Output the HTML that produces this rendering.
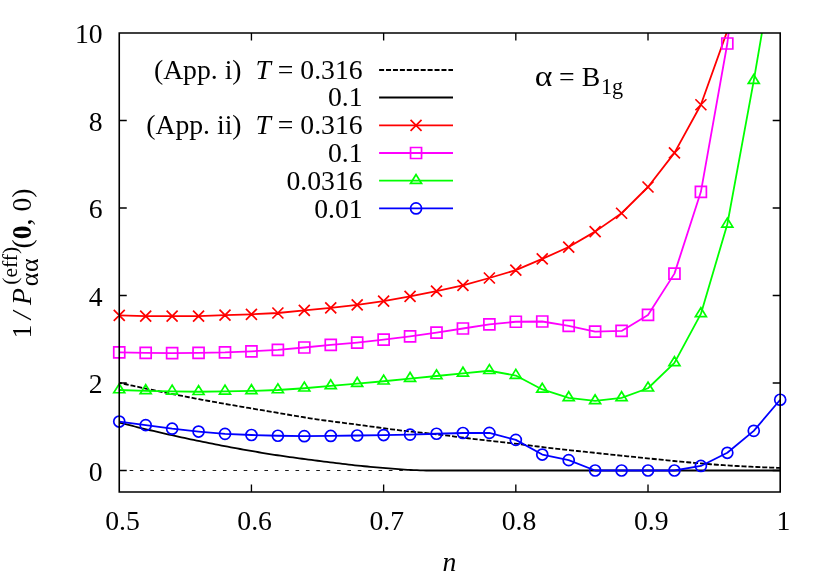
<!DOCTYPE html>
<html><head><meta charset="utf-8"><title>plot</title>
<style>html,body{margin:0;padding:0;background:#fff;}svg{display:block;}text{font-family:"Liberation Serif",serif;}</style></head>
<body>
<svg width="830" height="581" viewBox="0 0 830 581">
<defs><clipPath id="pc"><rect x="119.25" y="33.00" width="660.95" height="459.00"/></clipPath></defs>
<rect width="830" height="581" fill="#fff"/>
<path d="M119.25,470.50 H780.20" stroke="#000" stroke-width="0.9" stroke-dasharray="3.6 6.77" fill="none"/>
<path d="M119.25,382.78 L122.57,383.52 L125.89,384.25 L129.21,384.98 L132.54,385.71 L135.86,386.43 L139.18,387.14 L142.50,387.85 L145.82,388.56 L149.14,389.26 L152.46,389.95 L155.78,390.64 L159.11,391.32 L162.43,392.00 L165.75,392.68 L169.07,393.34 L172.39,394.01 L175.71,394.66 L179.03,395.32 L182.36,395.97 L185.68,396.61 L189.00,397.25 L192.32,397.88 L195.64,398.51 L198.96,399.14 L202.28,399.76 L205.61,400.38 L208.93,400.99 L212.25,401.60 L215.57,402.20 L218.89,402.80 L222.21,403.39 L225.53,403.98 L228.85,404.56 L232.18,405.14 L235.50,405.71 L238.82,406.28 L242.14,406.85 L245.46,407.41 L248.78,407.98 L252.10,408.54 L255.43,409.10 L258.75,409.66 L262.07,410.22 L265.39,410.78 L268.71,411.34 L272.03,411.91 L275.35,412.48 L278.68,413.05 L282.00,413.62 L285.32,414.19 L288.64,414.76 L291.96,415.32 L295.28,415.88 L298.60,416.43 L301.92,416.98 L305.25,417.51 L308.57,418.04 L311.89,418.56 L315.21,419.06 L318.53,419.55 L321.85,420.03 L325.17,420.49 L328.50,420.94 L331.82,421.39 L335.14,421.82 L338.46,422.25 L341.78,422.67 L345.10,423.09 L348.42,423.51 L351.74,423.93 L355.07,424.36 L358.39,424.79 L361.71,425.23 L365.03,425.68 L368.35,426.13 L371.67,426.59 L374.99,427.05 L378.32,427.51 L381.64,427.97 L384.96,428.42 L388.28,428.86 L391.60,429.29 L394.92,429.72 L398.24,430.12 L401.57,430.52 L404.89,430.89 L408.21,431.26 L411.53,431.62 L414.85,431.97 L418.17,432.32 L421.49,432.67 L424.81,433.02 L428.14,433.37 L431.46,433.73 L434.78,434.10 L438.10,434.49 L441.42,434.88 L444.74,435.29 L448.06,435.70 L451.39,436.12 L454.71,436.55 L458.03,436.97 L461.35,437.40 L464.67,437.82 L467.99,438.24 L471.31,438.65 L474.64,439.06 L477.96,439.45 L481.28,439.83 L484.60,440.21 L487.92,440.58 L491.24,440.95 L494.56,441.32 L497.88,441.69 L501.21,442.06 L504.53,442.43 L507.85,442.81 L511.17,443.19 L514.49,443.58 L517.81,443.98 L521.13,444.39 L524.46,444.81 L527.78,445.23 L531.10,445.65 L534.42,446.07 L537.74,446.49 L541.06,446.91 L544.38,447.31 L547.71,447.71 L551.03,448.09 L554.35,448.47 L557.67,448.84 L560.99,449.21 L564.31,449.58 L567.63,449.94 L570.95,450.30 L574.28,450.66 L577.60,451.01 L580.92,451.37 L584.24,451.72 L587.56,452.07 L590.88,452.42 L594.20,452.77 L597.53,453.13 L600.85,453.48 L604.17,453.83 L607.49,454.19 L610.81,454.54 L614.13,454.89 L617.45,455.24 L620.77,455.58 L624.10,455.93 L627.42,456.28 L630.74,456.62 L634.06,456.96 L637.38,457.30 L640.70,457.64 L644.02,457.98 L647.35,458.31 L650.67,458.65 L653.99,458.98 L657.31,459.32 L660.63,459.66 L663.95,459.99 L667.27,460.32 L670.60,460.65 L673.92,460.98 L677.24,461.30 L680.56,461.61 L683.88,461.92 L687.20,462.23 L690.52,462.52 L693.84,462.81 L697.17,463.10 L700.49,463.39 L703.81,463.67 L707.13,463.95 L710.45,464.23 L713.77,464.49 L717.09,464.74 L720.42,464.98 L723.74,465.20 L727.06,465.40 L730.38,465.60 L733.70,465.79 L737.02,465.98 L740.34,466.17 L743.67,466.35 L746.99,466.52 L750.31,466.69 L753.63,466.85 L756.95,467.01 L760.27,467.16 L763.59,467.30 L766.91,467.44 L770.24,467.56 L773.56,467.67 L776.88,467.78 L780.20,467.88" fill="none" stroke="#000" stroke-width="1.8" stroke-dasharray="5 1.93" stroke-dashoffset="2.33"/>
<path d="M119.25,422.59 L122.35,423.39 L125.45,424.17 L128.55,424.95 L131.65,425.73 L134.75,426.50 L137.85,427.26 L140.95,428.02 L144.05,428.77 L147.15,429.51 L150.25,430.25 L153.36,430.98 L156.46,431.71 L159.56,432.43 L162.66,433.14 L165.76,433.85 L168.86,434.55 L171.96,435.24 L175.06,435.93 L178.16,436.62 L181.26,437.29 L184.36,437.96 L187.46,438.63 L190.56,439.29 L193.66,439.94 L196.76,440.59 L199.86,441.23 L202.96,441.87 L206.06,442.49 L209.16,443.12 L212.26,443.73 L215.36,444.34 L218.46,444.94 L221.57,445.54 L224.67,446.13 L227.77,446.71 L230.87,447.29 L233.97,447.86 L237.07,448.43 L240.17,448.99 L243.27,449.55 L246.37,450.11 L249.47,450.66 L252.57,451.20 L255.67,451.73 L258.77,452.26 L261.87,452.78 L264.97,453.29 L268.07,453.80 L271.17,454.29 L274.27,454.77 L277.37,455.24 L280.47,455.71 L283.57,456.16 L286.67,456.61 L289.78,457.05 L292.88,457.48 L295.98,457.91 L299.08,458.32 L302.18,458.74 L305.28,459.15 L308.38,459.55 L311.48,459.96 L314.58,460.35 L317.68,460.75 L320.78,461.14 L323.88,461.54 L326.98,461.93 L330.08,462.32 L333.18,462.71 L336.28,463.10 L339.38,463.48 L342.48,463.86 L345.58,464.23 L348.68,464.59 L351.78,464.94 L354.88,465.29 L357.99,465.62 L361.09,465.93 L364.19,466.23 L367.29,466.52 L370.39,466.80 L373.49,467.07 L376.59,467.33 L379.69,467.59 L382.79,467.86 L385.89,468.13 L388.99,468.41 L392.09,468.68 L395.19,468.95 L398.29,469.20 L401.39,469.43 L404.49,469.64 L407.59,469.81 L410.69,469.96 L413.79,470.10 L416.89,470.22 L419.99,470.33 L423.09,470.43 L426.20,470.50 L780.20,470.50" fill="none" stroke="#000" stroke-width="1.8" stroke-linejoin="round"/>
<path d="M119.25,315.45 L145.69,316.19 L172.13,316.19 L198.56,316.06 L225.00,315.19 L251.44,314.31 L277.88,313.00 L304.32,310.38 L330.75,307.97 L357.19,304.91 L383.63,301.19 L410.07,296.38 L436.51,291.12 L462.94,285.44 L489.38,278.00 L515.82,270.12 L542.26,258.92 L568.70,247.03 L595.13,231.62 L621.57,213.25 L648.01,187.00 L674.45,152.88 L700.89,104.75 L727.32,30.81" fill="none" stroke="#ff0000" stroke-width="1.8" stroke-linejoin="round" clip-path="url(#pc)"/>
<path d="M113.75,309.95 L124.75,320.95 M113.75,320.95 L124.75,309.95 M140.19,310.69 L151.19,321.69 M140.19,321.69 L151.19,310.69 M166.63,310.69 L177.63,321.69 M166.63,321.69 L177.63,310.69 M193.06,310.56 L204.06,321.56 M193.06,321.56 L204.06,310.56 M219.50,309.69 L230.50,320.69 M219.50,320.69 L230.50,309.69 M245.94,308.81 L256.94,319.81 M245.94,319.81 L256.94,308.81 M272.38,307.50 L283.38,318.50 M272.38,318.50 L283.38,307.50 M298.82,304.88 L309.82,315.88 M298.82,315.88 L309.82,304.88 M325.25,302.47 L336.25,313.47 M325.25,313.47 L336.25,302.47 M351.69,299.41 L362.69,310.41 M351.69,310.41 L362.69,299.41 M378.13,295.69 L389.13,306.69 M378.13,306.69 L389.13,295.69 M404.57,290.88 L415.57,301.88 M404.57,301.88 L415.57,290.88 M431.01,285.62 L442.01,296.62 M431.01,296.62 L442.01,285.62 M457.44,279.94 L468.44,290.94 M457.44,290.94 L468.44,279.94 M483.88,272.50 L494.88,283.50 M483.88,283.50 L494.88,272.50 M510.32,264.62 L521.32,275.62 M510.32,275.62 L521.32,264.62 M536.76,253.42 L547.76,264.42 M536.76,264.42 L547.76,253.42 M563.20,241.53 L574.20,252.53 M563.20,252.53 L574.20,241.53 M589.63,226.12 L600.63,237.12 M589.63,237.12 L600.63,226.12 M616.07,207.75 L627.07,218.75 M616.07,218.75 L627.07,207.75 M642.51,181.50 L653.51,192.50 M642.51,192.50 L653.51,181.50 M668.95,147.38 L679.95,158.38 M668.95,158.38 L679.95,147.38 M695.39,99.25 L706.39,110.25 M695.39,110.25 L706.39,99.25" fill="none" stroke="#ff0000" stroke-width="1.7" stroke-linejoin="miter"/>
<path d="M119.25,352.38 L145.69,352.81 L172.13,353.03 L198.56,352.81 L225.00,352.38 L251.44,351.28 L277.88,349.97 L304.32,347.48 L330.75,344.81 L357.19,342.53 L383.63,339.69 L410.07,336.36 L436.51,332.69 L462.94,328.49 L489.38,324.38 L515.82,321.75 L542.26,321.49 L568.70,325.82 L595.13,331.64 L621.57,330.94 L648.01,314.93 L674.45,273.62 L700.89,191.81 L727.32,43.50 L753.76,-168.25" fill="none" stroke="#ff00ff" stroke-width="1.8" stroke-linejoin="round" clip-path="url(#pc)"/>
<path d="M113.75,346.88 h11.00 v11.00 h-11.00 Z M140.19,347.31 h11.00 v11.00 h-11.00 Z M166.63,347.53 h11.00 v11.00 h-11.00 Z M193.06,347.31 h11.00 v11.00 h-11.00 Z M219.50,346.88 h11.00 v11.00 h-11.00 Z M245.94,345.78 h11.00 v11.00 h-11.00 Z M272.38,344.47 h11.00 v11.00 h-11.00 Z M298.82,341.98 h11.00 v11.00 h-11.00 Z M325.25,339.31 h11.00 v11.00 h-11.00 Z M351.69,337.03 h11.00 v11.00 h-11.00 Z M378.13,334.19 h11.00 v11.00 h-11.00 Z M404.57,330.86 h11.00 v11.00 h-11.00 Z M431.01,327.19 h11.00 v11.00 h-11.00 Z M457.44,322.99 h11.00 v11.00 h-11.00 Z M483.88,318.88 h11.00 v11.00 h-11.00 Z M510.32,316.25 h11.00 v11.00 h-11.00 Z M536.76,315.99 h11.00 v11.00 h-11.00 Z M563.20,320.32 h11.00 v11.00 h-11.00 Z M589.63,326.14 h11.00 v11.00 h-11.00 Z M616.07,325.44 h11.00 v11.00 h-11.00 Z M642.51,309.43 h11.00 v11.00 h-11.00 Z M668.95,268.12 h11.00 v11.00 h-11.00 Z M695.39,186.31 h11.00 v11.00 h-11.00 Z M721.82,38.00 h11.00 v11.00 h-11.00 Z" fill="none" stroke="#ff00ff" stroke-width="1.7" stroke-linejoin="miter"/>
<path d="M119.25,390.00 L145.69,390.88 L172.13,391.31 L198.56,391.75 L225.00,391.31 L251.44,390.88 L277.88,390.00 L304.32,388.25 L330.75,385.93 L357.19,383.61 L383.63,381.25 L410.07,378.62 L436.51,376.00 L462.94,373.38 L489.38,370.75 L515.82,375.56 L542.26,389.43 L568.70,397.88 L595.13,400.94 L621.57,397.88 L648.01,388.25 L674.45,362.88 L700.89,313.88 L727.32,224.28 L753.76,80.69 L780.20,-74.19" fill="none" stroke="#00ff00" stroke-width="1.8" stroke-linejoin="round" clip-path="url(#pc)"/>
<path d="M119.25,383.84 L113.75,392.75 L124.75,392.75 Z M145.69,384.71 L140.19,393.62 L151.19,393.62 Z M172.13,385.15 L166.63,394.06 L177.63,394.06 Z M198.56,385.59 L193.06,394.50 L204.06,394.50 Z M225.00,385.15 L219.50,394.06 L230.50,394.06 Z M251.44,384.71 L245.94,393.62 L256.94,393.62 Z M277.88,383.84 L272.38,392.75 L283.38,392.75 Z M304.32,382.09 L298.82,391.00 L309.82,391.00 Z M330.75,379.77 L325.25,388.68 L336.25,388.68 Z M357.19,377.45 L351.69,386.36 L362.69,386.36 Z M383.63,375.09 L378.13,384.00 L389.13,384.00 Z M410.07,372.46 L404.57,381.38 L415.57,381.38 Z M436.51,369.84 L431.01,378.75 L442.01,378.75 Z M462.94,367.21 L457.44,376.12 L468.44,376.12 Z M489.38,364.59 L483.88,373.50 L494.88,373.50 Z M515.82,369.40 L510.32,378.31 L521.32,378.31 Z M542.26,383.27 L536.76,392.18 L547.76,392.18 Z M568.70,391.71 L563.20,400.62 L574.20,400.62 Z M595.13,394.78 L589.63,403.69 L600.63,403.69 Z M621.57,391.71 L616.07,400.62 L627.07,400.62 Z M648.01,382.09 L642.51,391.00 L653.51,391.00 Z M674.45,356.71 L668.95,365.62 L679.95,365.62 Z M700.89,307.71 L695.39,316.62 L706.39,316.62 Z M727.32,218.12 L721.82,227.03 L732.82,227.03 Z M753.76,74.53 L748.26,83.44 L759.26,83.44 Z" fill="none" stroke="#00ff00" stroke-width="1.7" stroke-linejoin="miter"/>
<path d="M119.25,421.54 L145.69,425.13 L172.13,428.68 L198.56,431.56 L225.00,433.88 L251.44,434.98 L277.88,435.76 L304.32,436.16 L330.75,435.94 L357.19,435.50 L383.63,435.06 L410.07,434.62 L436.51,433.75 L462.94,433.01 L489.38,432.88 L515.82,439.88 L542.26,454.53 L568.70,460.13 L595.13,470.50 L621.57,470.50 L648.01,470.50 L674.45,470.50 L700.89,465.95 L727.32,452.78 L753.76,430.86 L780.20,399.76" fill="none" stroke="#0000ff" stroke-width="1.8" stroke-linejoin="round" clip-path="url(#pc)"/>
<path d="M113.75,421.54 a5.50,5.50 0 1,0 11.00,0 a5.50,5.50 0 1,0 -11.00,0 Z M140.19,425.13 a5.50,5.50 0 1,0 11.00,0 a5.50,5.50 0 1,0 -11.00,0 Z M166.63,428.68 a5.50,5.50 0 1,0 11.00,0 a5.50,5.50 0 1,0 -11.00,0 Z M193.06,431.56 a5.50,5.50 0 1,0 11.00,0 a5.50,5.50 0 1,0 -11.00,0 Z M219.50,433.88 a5.50,5.50 0 1,0 11.00,0 a5.50,5.50 0 1,0 -11.00,0 Z M245.94,434.98 a5.50,5.50 0 1,0 11.00,0 a5.50,5.50 0 1,0 -11.00,0 Z M272.38,435.76 a5.50,5.50 0 1,0 11.00,0 a5.50,5.50 0 1,0 -11.00,0 Z M298.82,436.16 a5.50,5.50 0 1,0 11.00,0 a5.50,5.50 0 1,0 -11.00,0 Z M325.25,435.94 a5.50,5.50 0 1,0 11.00,0 a5.50,5.50 0 1,0 -11.00,0 Z M351.69,435.50 a5.50,5.50 0 1,0 11.00,0 a5.50,5.50 0 1,0 -11.00,0 Z M378.13,435.06 a5.50,5.50 0 1,0 11.00,0 a5.50,5.50 0 1,0 -11.00,0 Z M404.57,434.62 a5.50,5.50 0 1,0 11.00,0 a5.50,5.50 0 1,0 -11.00,0 Z M431.01,433.75 a5.50,5.50 0 1,0 11.00,0 a5.50,5.50 0 1,0 -11.00,0 Z M457.44,433.01 a5.50,5.50 0 1,0 11.00,0 a5.50,5.50 0 1,0 -11.00,0 Z M483.88,432.88 a5.50,5.50 0 1,0 11.00,0 a5.50,5.50 0 1,0 -11.00,0 Z M510.32,439.88 a5.50,5.50 0 1,0 11.00,0 a5.50,5.50 0 1,0 -11.00,0 Z M536.76,454.53 a5.50,5.50 0 1,0 11.00,0 a5.50,5.50 0 1,0 -11.00,0 Z M563.20,460.13 a5.50,5.50 0 1,0 11.00,0 a5.50,5.50 0 1,0 -11.00,0 Z M589.63,470.50 a5.50,5.50 0 1,0 11.00,0 a5.50,5.50 0 1,0 -11.00,0 Z M616.07,470.50 a5.50,5.50 0 1,0 11.00,0 a5.50,5.50 0 1,0 -11.00,0 Z M642.51,470.50 a5.50,5.50 0 1,0 11.00,0 a5.50,5.50 0 1,0 -11.00,0 Z M668.95,470.50 a5.50,5.50 0 1,0 11.00,0 a5.50,5.50 0 1,0 -11.00,0 Z M695.39,465.95 a5.50,5.50 0 1,0 11.00,0 a5.50,5.50 0 1,0 -11.00,0 Z M721.82,452.78 a5.50,5.50 0 1,0 11.00,0 a5.50,5.50 0 1,0 -11.00,0 Z M748.26,430.86 a5.50,5.50 0 1,0 11.00,0 a5.50,5.50 0 1,0 -11.00,0 Z M774.70,399.76 a5.50,5.50 0 1,0 11.00,0 a5.50,5.50 0 1,0 -11.00,0 Z" fill="none" stroke="#0000ff" stroke-width="1.7" stroke-linejoin="miter"/>
<path d="M379.10,70.00 H453.00" stroke="#000" stroke-width="1.8" stroke-dasharray="5 1.93" fill="none"/>
<path d="M379.10,97.50 H453.00" stroke="#000" stroke-width="1.8" fill="none"/>
<path d="M379.10,125.40 H453.00" stroke="#ff0000" stroke-width="1.8" fill="none"/>
<path d="M410.55,119.90 L421.55,130.90 M410.55,130.90 L421.55,119.90" fill="none" stroke="#ff0000" stroke-width="1.7"/>
<path d="M379.10,153.00 H453.00" stroke="#ff00ff" stroke-width="1.8" fill="none"/>
<path d="M410.55,147.50 h11.00 v11.00 h-11.00 Z" fill="none" stroke="#ff00ff" stroke-width="1.7"/>
<path d="M379.10,180.70 H453.00" stroke="#00ff00" stroke-width="1.8" fill="none"/>
<path d="M416.05,174.54 L410.55,183.45 L421.55,183.45 Z" fill="none" stroke="#00ff00" stroke-width="1.7"/>
<path d="M379.10,208.40 H453.00" stroke="#0000ff" stroke-width="1.8" fill="none"/>
<path d="M410.55,208.40 a5.50,5.50 0 1,0 11.00,0 a5.50,5.50 0 1,0 -11.00,0 Z" fill="none" stroke="#0000ff" stroke-width="1.7"/>
<path d="M251.44,492.00 v-7.50 M251.44,33.00 v7.50 M383.63,492.00 v-7.50 M383.63,33.00 v7.50 M515.82,492.00 v-7.50 M515.82,33.00 v7.50 M648.01,492.00 v-7.50 M648.01,33.00 v7.50 M119.25,470.50 h7.50 M780.20,470.50 h-7.50 M119.25,383.00 h7.50 M780.20,383.00 h-7.50 M119.25,295.50 h7.50 M780.20,295.50 h-7.50 M119.25,208.00 h7.50 M780.20,208.00 h-7.50 M119.25,120.50 h7.50 M780.20,120.50 h-7.50" fill="none" stroke="#000" stroke-width="1.35"/>
<path d="M119.25,33.00 H780.20 V492.00 H119.25 Z" fill="none" stroke="#000" stroke-width="1.6" stroke-linejoin="miter"/>
<g font-family="'Liberation Serif', serif" font-size="27.7" fill="#000" opacity="0.999">
<text x="102.6" y="480.50" text-anchor="end">0</text>
<text x="102.6" y="393.00" text-anchor="end">2</text>
<text x="102.6" y="305.50" text-anchor="end">4</text>
<text x="102.6" y="218.00" text-anchor="end">6</text>
<text x="102.6" y="130.50" text-anchor="end">8</text>
<text x="102.6" y="43.00" text-anchor="end">10</text>
<text x="122.45" y="529.9" text-anchor="middle">0.5</text>
<text x="254.64" y="529.9" text-anchor="middle">0.6</text>
<text x="386.83" y="529.9" text-anchor="middle">0.7</text>
<text x="519.02" y="529.9" text-anchor="middle">0.8</text>
<text x="651.21" y="529.9" text-anchor="middle">0.9</text>
<text x="783.40" y="529.9" text-anchor="middle">1</text>
<text x="449.3" y="570.6" text-anchor="middle" font-style="italic">n</text>
<text x="362.60" y="78.60" text-anchor="end" xml:space="preserve">(App. i)  <tspan font-style="italic">T</tspan> = 0.316</text>
<text x="362.60" y="106.45" text-anchor="end">0.1</text>
<text x="362.60" y="134.30" text-anchor="end" xml:space="preserve">(App. ii)  <tspan font-style="italic">T</tspan> = 0.316</text>
<text x="362.60" y="162.15" text-anchor="end">0.1</text>
<text x="362.60" y="190.00" text-anchor="end">0.0316</text>
<text x="362.60" y="217.85" text-anchor="end">0.01</text>
<text transform="translate(534.70,85.7) scale(1.12,1)" font-size="30">α</text>
<text x="559.10" y="85.7" xml:space="preserve">= B<tspan font-size="22.2" dy="7.8" dx="0.8">1g</tspan></text>
<text transform="translate(31.00,331.70) rotate(-90)" text-anchor="middle" >1</text>
<text transform="translate(31.00,315.50) rotate(-90)" text-anchor="middle" font-style="italic">/</text>
<text transform="translate(31.00,296.50) rotate(-90)" text-anchor="middle" font-style="italic">P</text>
<text transform="translate(16.50,265.75) rotate(-90)" text-anchor="middle" font-size="21.5">(eff)</text>
<text transform="translate(38.10,272.10) rotate(-90)" text-anchor="middle" font-size="26" letter-spacing="0.5">αα</text>
<text transform="translate(31.00,248.50) rotate(-90)" text-anchor="start" xml:space="preserve">(<tspan font-weight="bold">0</tspan>, 0)</text>
</g>
</svg>
</body></html>
